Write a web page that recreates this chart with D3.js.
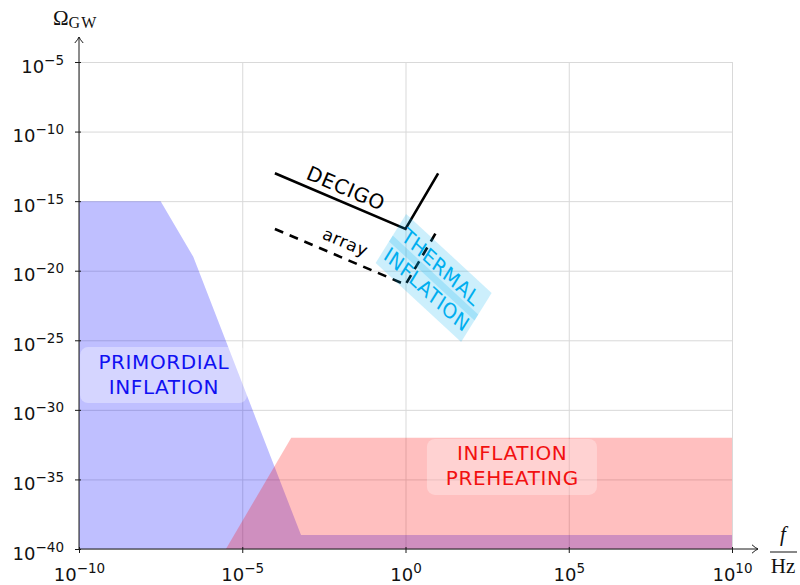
<!DOCTYPE html>
<html>
<head>
<meta charset="utf-8">
<script src="https://cdn.jsdelivr.net/npm/d3@7"></script>
<style>
  html, body { margin: 0; padding: 0; background: #fff; }
  svg { display: block; }
</style>
</head>
<body>
<svg id="chart" width="800" height="585"></svg>
<script>
// Tick exponents (powers of ten) on each axis
const xTickExponents = [-10, -5, 0, 5, 10];
const yTickExponents = [-40, -35, -30, -25, -20, -15, -10, -5];

// Primordial inflation region (frequency in Hz, Omega_GW)
const primordialF     = [1e-10, 10 ** -7.5, 10 ** -6.5, 10 ** -3.2, 1e10, 1e10, 1e-10];
const primordialOmega = [1e-15, 1e-15,      1e-19,      1e-39,      1e-39, 1e-40, 1e-40];

// Inflation preheating region
const preheatingF     = [10 ** -5.5, 10 ** -3.5, 1e10,  1e10];
const preheatingOmega = [1e-40,      1e-32,      1e-32, 1e-40];

// DECIGO sensitivity curve and the array configuration
const decigoF     = [1e-4,  1,     10];
const decigoOmega = [1e-13, 1e-17, 1e-13];
const arrayF      = [1e-4,  1,     10];
const arrayOmega  = [1e-17, 1e-21, 1e-17];

// Region labels: anchor point in data space
const primordialLabel = { f: 10 ** -7.41, omega: 10 ** -27.5, lines: ["PRIMORDIAL", "INFLATION"] };
const preheatingLabel = { f: 10 ** 3.26,  omega: 10 ** -34.1, lines: ["INFLATION", "PREHEATING"] };
const thermalLabel    = { f: 10 ** 0.862, omega: 10 ** -20.52, lines: ["THERMAL", "INFLATION"] };

const svg = d3.select("#chart");

const x = d3.scaleLog().domain([1e-10, 1e10]).range([79, 732]);
const y = d3.scaleLog().domain([1e-40, 1e-5]).range([549, 62]);

const xTicks = xTickExponents.map(e => 10 ** e);
const yTicks = yTickExponents.map(e => 10 ** e);
const expText = d => {
  const e = Math.round(Math.log10(d));
  return e < 0 ? "\u2212" + (-e) : String(e);
};

const [x0, x1] = x.range();
const [yBottom, yTop] = y.range();

// Grid
const gridX = svg.append("g")
  .attr("transform", `translate(0,${yBottom})`)
  .call(d3.axisBottom(x).tickValues(xTicks).tickSize(-(yBottom - yTop)).tickFormat(""));
gridX.select(".domain").remove();
gridX.selectAll(".tick line").attr("stroke", "#d9d9d9").attr("stroke-width", 1);

const gridY = svg.append("g")
  .attr("transform", `translate(${x0},0)`)
  .call(d3.axisLeft(y).tickValues(yTicks).tickSize(-(x1 - x0)).tickFormat(""));
gridY.select(".domain").remove();
gridY.selectAll(".tick line").attr("stroke", "#d9d9d9").attr("stroke-width", 1);

// Filled regions
const line = d3.line().x(d => x(d[0])).y(d => y(d[1]));
svg.append("path")
  .attr("d", line(d3.zip(primordialF, primordialOmega)) + "Z")
  .attr("fill", "blue").attr("fill-opacity", 0.25);
svg.append("path")
  .attr("d", line(d3.zip(preheatingF, preheatingOmega)) + "Z")
  .attr("fill", "red").attr("fill-opacity", 0.25);

// DECIGO curves
svg.append("path")
  .attr("d", line(d3.zip(decigoF, decigoOmega)))
  .attr("fill", "none").attr("stroke", "#000").attr("stroke-width", 2.6);
svg.append("path")
  .attr("d", line(d3.zip(arrayF, arrayOmega)))
  .attr("fill", "none").attr("stroke", "#000").attr("stroke-width", 2.6)
  .attr("stroke-dasharray", "9,7");

const labelFont = "'DejaVu Sans', sans-serif";
const labelSize = 20;

// Curve labels, aligned with the curve slope
const slope = Math.atan2(y(decigoOmega[1]) - y(decigoOmega[0]), x(decigoF[1]) - x(decigoF[0])) * 180 / Math.PI;
svg.append("text")
  .attr("transform", `translate(${x(10 ** -1.83)},${y(10 ** -14.05)}) rotate(${slope})`)
  .attr("text-anchor", "middle").attr("y", 7.3).attr("x", 0.3)
  .attr("font-family", labelFont).attr("font-size", labelSize).attr("letter-spacing", 0.6)
  .text("DECIGO");
svg.append("text")
  .attr("transform", `translate(${x(10 ** -1.86)},${y(10 ** -18.0)}) rotate(${slope})`)
  .attr("text-anchor", "middle").attr("y", 5).attr("x", 0.3)
  .attr("font-family", labelFont).attr("font-size", 17).attr("letter-spacing", 0.6)
  .text("array");

// Boxed region labels
function boxedLabel(lbl, w, h, color, bg, bgOpacity) {
  const cx = x(lbl.f), cy = y(lbl.omega);
  const g = svg.append("g").attr("transform", `translate(${cx},${cy})`);
  g.append("rect")
    .attr("x", -w / 2).attr("y", -h / 2).attr("width", w).attr("height", h)
    .attr("rx", 8).attr("fill", bg).attr("fill-opacity", bgOpacity);
  g.selectAll("text").data(lbl.lines).join("text")
    .attr("x", 0.3).attr("y", (d, i) => -6.5 + i * 25)
    .attr("text-anchor", "middle")
    .attr("font-family", labelFont).attr("font-size", labelSize).attr("letter-spacing", 0.6)
    .attr("fill", color)
    .text(d => d);
}
boxedLabel(primordialLabel, 167, 56, "#1010f2", "#fff", 0.35);
boxedLabel(preheatingLabel, 170, 56, "#f21010", "#fff", 0.3);

// Thermal inflation: slanted band with two overlapping line boxes.
// Local frame: u runs along the text, v across it; the frame is sheared.
{
  const w = 116, h = 58, overlap = 7;
  const uAxis = [0.737, 0.681];   // pixel step per unit u
  const vAxis = [-0.526, 0.845];  // pixel step per unit v
  const cx = x(thermalLabel.f), cy = y(thermalLabel.omega);
  const g = svg.append("g")
    .attr("transform", `matrix(${uAxis[0]},${uAxis[1]},${vAxis[0]},${vAxis[1]},${cx},${cy})`);
  const half = (h + overlap) / 2;
  g.append("rect").attr("x", -w / 2).attr("y", -h / 2).attr("width", w).attr("height", half)
    .attr("fill", "#00aeef").attr("fill-opacity", 0.2);
  g.append("rect").attr("x", -w / 2).attr("y", h / 2 - half).attr("width", w).attr("height", half)
    .attr("fill", "#00aeef").attr("fill-opacity", 0.2);
  g.selectAll("text.tl").data(thermalLabel.lines).join("text")
    .attr("class", "tl")
    .attr("x", 0.3).attr("y", (d, i) => i === 0 ? -6 : 20.5)
    .attr("text-anchor", "middle")
    .attr("font-family", labelFont).attr("font-size", labelSize).attr("letter-spacing", 0.6)
    .attr("fill", "#00aeef")
    .text(d => d);
}

// Axes
const axisColor = "#1a1a1a";
const tickFont = "'DejaVu Sans', sans-serif";

const gx = svg.append("g")
  .attr("transform", `translate(0,${yBottom})`)
  .call(d3.axisBottom(x).tickValues(xTicks).tickSize(4).tickFormat(""));
gx.select(".domain").remove();
gx.selectAll(".tick line").attr("stroke", axisColor).attr("y1", -2);
gx.selectAll(".tick text").each(function (d) {
  const t = d3.select(this);
  t.text(null).attr("y", 32).attr("dy", null).attr("fill", "#111")
    .attr("font-family", tickFont).attr("font-size", 18).attr("text-anchor", "middle");
  t.append("tspan").text("10");
  t.append("tspan").attr("dy", -8).attr("font-size", 13.5).text(expText(d));
});

const gy = svg.append("g")
  .attr("transform", `translate(${x0},0)`)
  .call(d3.axisLeft(y).tickValues(yTicks).tickSize(4).tickFormat(""));
gy.select(".domain").remove();
gy.selectAll(".tick line").attr("stroke", axisColor).attr("x1", 2);
gy.selectAll(".tick text").each(function (d) {
  const t = d3.select(this);
  t.text(null).attr("x", -15).attr("y", 10).attr("dy", null).attr("fill", "#111")
    .attr("font-family", tickFont).attr("font-size", 18).attr("text-anchor", "end");
  t.append("tspan").text("10");
  t.append("tspan").attr("dy", -8).attr("font-size", 13.5).text(expText(d));
});

// Axis lines with arrow tips
const arrowTip = "M -6,-4.2 Q -2.5,-1 0,0 Q -2.5,1 -6,4.2";
svg.append("line").attr("x1", x0).attr("x2", 758).attr("y1", yBottom).attr("y2", yBottom)
  .attr("stroke", axisColor).attr("stroke-width", 1);
svg.append("path").attr("d", arrowTip).attr("transform", `translate(758,${yBottom})`)
  .attr("fill", "none").attr("stroke", axisColor).attr("stroke-width", 1);
svg.append("line").attr("x1", x0).attr("x2", x0).attr("y1", yBottom).attr("y2", 37)
  .attr("stroke", axisColor).attr("stroke-width", 1);
svg.append("path").attr("d", arrowTip).attr("transform", `translate(${x0},37) rotate(-90)`)
  .attr("fill", "none").attr("stroke", axisColor).attr("stroke-width", 1);

// Axis titles
const serif = "'Liberation Serif', 'DejaVu Serif', serif";
const yTitle = svg.append("text").attr("x", 53).attr("y", 25)
  .attr("font-family", serif).attr("font-size", 21).attr("fill", "#111");
yTitle.append("tspan").text("\u03A9");
yTitle.append("tspan").attr("dy", 3).attr("font-size", 16).attr("letter-spacing", 1).text("GW");

svg.append("text").attr("x", 783).attr("y", 541).attr("text-anchor", "middle")
  .attr("font-family", serif).attr("font-style", "italic").attr("font-size", 21)
  .attr("fill", "#111").text("f");
svg.append("line").attr("x1", 770).attr("x2", 797).attr("y1", 552).attr("y2", 552)
  .attr("stroke", "#111").attr("stroke-width", 1);
svg.append("text").attr("x", 783).attr("y", 573).attr("text-anchor", "middle")
  .attr("font-family", serif).attr("font-size", 21).attr("fill", "#111").text("Hz");
</script>
</body>
</html>
